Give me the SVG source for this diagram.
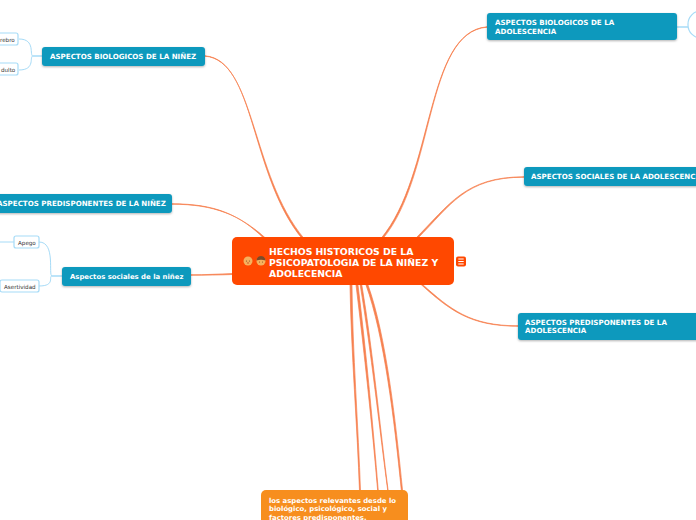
<svg xmlns="http://www.w3.org/2000/svg" width="696" height="520" viewBox="0 0 696 520">
<defs>
<filter id="sh" x="-5%" y="-20%" width="110%" height="150%"><feDropShadow dx="0" dy="1" stdDeviation="0.8" flood-color="#000" flood-opacity="0.3"/></filter>
</defs>
<style>
text{font-family:"DejaVu Sans",Verdana,sans-serif}
.t{fill:#fff;font-weight:700;font-size:7.1px}
.u{fill:#fff;font-weight:700;font-size:6.9px}
.m{fill:#fff;font-weight:700;font-size:9.3px}
.s{fill:#333;font-size:5.6px}
.b{fill:#1199bd;filter:url(#sh)}
.c{fill:#fff;stroke:#a6dbf7;stroke-width:1.2}
.o{fill:#f6804f;stroke:#f6804f;stroke-width:0.7;stroke-linejoin:round}
.l{fill:none;stroke:#a6dbf7}
</style>
<rect width="696" height="520" fill="#fff"/>
<g id="connectors">
<path class="o" d="M205 55.800C255 59.800 250 175 302 238.500L304 238.500C251 175 255 60.200 205 56.200Z"/>
<path class="o" d="M172 203.800C215 203.800 239.500 214.500 264 238.500L266 238.500C240.500 215.500 215 204.200 172 204.200Z"/>
<path class="o" d="M191 274.800C205 274.800 220 274 233 273.500L233 274.500C220 275 205 275.200 191 275.200Z"/>
<path class="o" d="M487 26.800C425 31.800 434.500 175 381 238.500L383 238.500C435.500 175 425 32.200 487 27.200Z"/>
<path class="o" d="M524 176.800C465 176.800 449.500 204.500 415.500 238.500L417.500 238.500C450.500 205.500 465 177.200 524 177.200Z"/>
<path class="o" d="M518 326.200C470 326.200 450 310.500 420.500 284L422 284C450.500 309.500 470 325.800 518 325.800Z"/>
<path class="o" d="M350 285C351 350 357.500 430 359.500 491L360.500 491C358.500 430 352.500 350 352 285Z"/>
<path class="o" d="M356 285C364 350 372.600 430 377.700 491L378.300 491C373.400 430 366 350 358 285Z"/>
<path class="o" d="M360.200 285C371 350 379.700 430 387.800 491L388.200 491C380.300 430 372.800 350 361.800 285Z"/>
<path class="o" d="M366 285C384 335 394.400 420 401.400 491L402.600 491C395.600 420 386 335 368 285Z"/>
<path class="l" stroke-width="1.5" d="M42 56H33"/>
<path class="l" stroke-width="1" d="M19 39C36 39 29 56 33 56C29 56 36 70 19 70"/>
<path class="l" stroke-width="1.5" d="M62 276H52"/>
<path class="l" stroke-width="1" d="M39 242C56 242 48 276 52 276C48 276 56 286 39 286"/>
<path class="l" stroke-width="1" d="M0 242H14"/>
<path class="l" stroke-width="1.5" d="M677 27H688"/>
</g>
<g id="n-center">
<rect x="232" y="237" width="222" height="48" rx="5" fill="#ff4800"/>
<text class="m"><tspan x="269" y="255">HECHOS HISTORICOS DE LA</tspan><tspan x="269" y="266">PSICOPATOLOGIA DE LA NIÑEZ Y</tspan><tspan x="269" y="277">ADOLECENCIA</tspan></text>
<circle cx="248" cy="261" r="4.500" fill="#f5b15e"/><circle cx="246.500" cy="261" r="0.600" fill="#7a4a2a"/><circle cx="249.500" cy="261" r="0.600" fill="#7a4a2a"/><circle cx="248" cy="263" r="0.900" fill="#d9703a"/>
<circle cx="261" cy="261" r="4.500" fill="#f5b15e"/><path d="M256.500 260.500a4.500 4.500 0 0 1 9 0q-4.500-1.500-9 0z" fill="#7a4a2a"/><circle cx="259.500" cy="262" r="0.500" fill="#7a4a2a"/><circle cx="262.500" cy="262" r="0.500" fill="#7a4a2a"/>
<rect x="456" y="256.500" width="10" height="10" rx="2" fill="#ff4800"/><path d="M458.300 259H463.700M458.300 261.500H463.700M458.300 264H463.700" stroke="#fff" stroke-width="1.100"/>
</g>
<g id="n-bio-nino"><rect class="b" x="42" y="47" width="163" height="19" rx="3"/><text class="t" x="50" y="59">ASPECTOS BIOLOGICOS DE LA NIÑEZ</text></g>
<g id="n-cerebro"><rect class="c" x="-10" y="33" width="28" height="12" rx="2"/><text class="s" x="0" y="41.500">rebro</text></g>
<g id="n-adulto"><rect class="c" x="-10" y="63" width="28" height="12" rx="2"/><text class="s" x="1" y="71.500">dulto</text></g>
<g id="n-pred-nino"><rect class="b" x="-8" y="194" width="180" height="19" rx="3"/><text class="t" x="-3" y="206">ASPECTOS PREDISPONENTES DE LA NIÑEZ</text></g>
<g id="n-soc-nino"><rect class="b" x="62" y="267" width="129" height="19" rx="3"/><text class="u" x="70" y="279">Aspectos sociales de la niñez</text></g>
<g id="n-apego"><rect class="c" x="14" y="236" width="25" height="12" rx="2"/><text class="s" x="18" y="245">Apego</text></g>
<g id="n-asert"><rect class="c" x="0" y="280" width="39" height="12" rx="2"/><text class="s" x="4" y="288.500">Asertividad</text></g>
<g id="n-bio-ado"><rect class="b" x="487" y="13" width="190" height="27" rx="3"/><text class="t"><tspan x="495" y="25">ASPECTOS BIOLOGICOS DE LA</tspan><tspan x="495" y="34">ADOLESCENCIA</tspan></text></g>
<g id="n-ado-child"><rect class="c" x="688" y="11" width="30" height="27" rx="13"/></g>
<g id="n-soc-ado"><rect class="b" x="524" y="167" width="190" height="19" rx="3"/><text class="t" x="531" y="179">ASPECTOS SOCIALES DE LA ADOLESCENCIA</text></g>
<g id="n-pred-ado"><rect class="b" x="518" y="313" width="190" height="27" rx="3"/><text class="t"><tspan x="525" y="325">ASPECTOS PREDISPONENTES DE LA</tspan><tspan x="525" y="333">ADOLESCENCIA</tspan></text></g>
<g id="n-relevantes"><rect x="261" y="490" width="147" height="40" rx="5" fill="#f78e1e"/><text class="u"><tspan x="269" y="503">los aspectos relevantes desde lo</tspan><tspan x="269" y="511">biológico, psicológico, social y</tspan><tspan x="269" y="520">factores predisponentes.</tspan></text></g>
</svg>
